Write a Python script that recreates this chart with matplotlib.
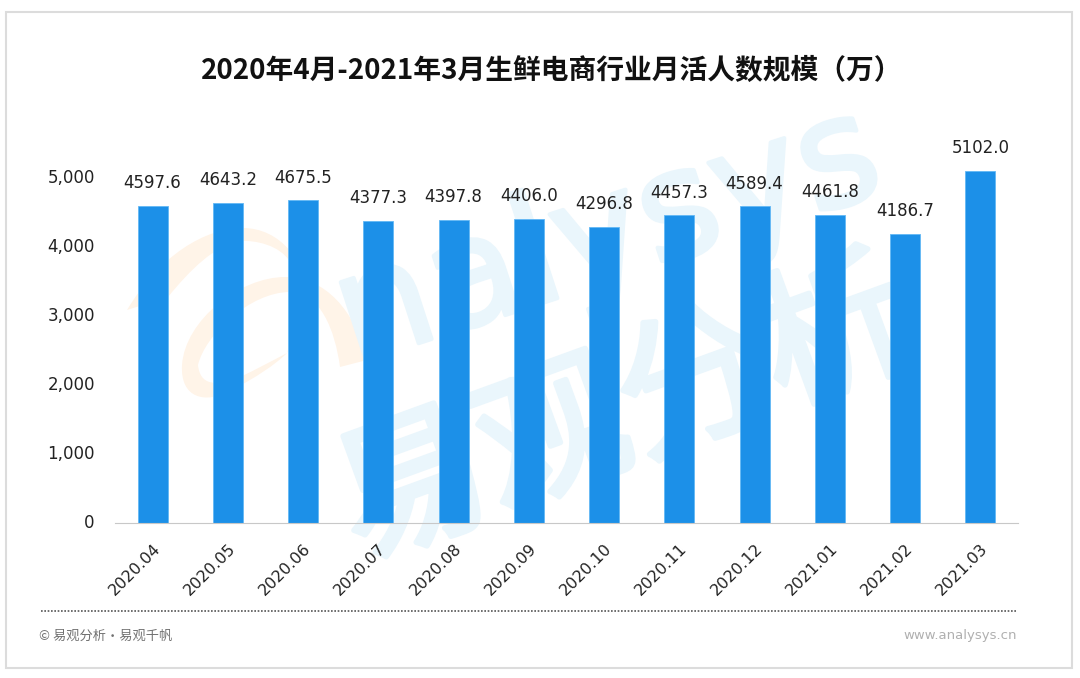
"""Monthly active users of fresh-food e-commerce, Apr 2020 - Mar 2021."""

import matplotlib
matplotlib.use("Agg")
import matplotlib.pyplot as plt
import matplotlib.patheffects as pe
from matplotlib.patches import Rectangle, PathPatch
from matplotlib.path import Path
from matplotlib.transforms import ScaledTranslation

plt.rcParams["font.family"] = ["Noto Sans CJK SC", "DejaVu Sans"]

months = ["2020.04", "2020.05", "2020.06", "2020.07", "2020.08", "2020.09",
          "2020.10", "2020.11", "2020.12", "2021.01", "2021.02", "2021.03"]
users = [4597.6, 4643.2, 4675.5, 4377.3, 4397.8, 4406.0,
         4296.8, 4457.3, 4589.4, 4461.8, 4186.7, 5102.0]
y_ticks = [0, 1000, 2000, 3000, 4000, 5000]

W, H = 1080, 678


def fx(px):
    return px / W


def fy(py):
    return 1 - py / H


def swoosh(start, *curves):
    """Closed filled shape from a start point and cubic bezier segments."""
    verts, codes = [start], [Path.MOVETO]
    for c in curves:
        verts += list(c)
        codes += [Path.CURVE4] * 3
    verts.append(start)
    codes.append(Path.CLOSEPOLY)
    return Path(verts, codes)


fig = plt.figure(figsize=(W / 100, H / 100), dpi=100, facecolor="white")

# card border
fig.add_artist(Rectangle((fx(6), fy(668)), fx(1066), 656 / H, transform=fig.transFigure,
                         fc="white", ec="#dcdcdc", lw=1.5, zorder=-5))

# ---- watermark ----
wm = "#eaf6fc"
wm_en = fig.text(fx(608), fy(238), "nalysys", color=wm, fontsize=108, rotation=18, family="DejaVu Sans",
                 ha="center", va="center", zorder=-1)
wm_cn = fig.text(fx(625), fy(415), "易观分析", color=wm, fontsize=108, rotation=20,
                 ha="center", va="center", zorder=-1)
wm_en.set_path_effects([pe.withStroke(linewidth=3, foreground=wm)])
wm_cn.set_path_effects([pe.withStroke(linewidth=4, foreground=wm)])
bg = fig.add_axes([0, 0, 1, 1], zorder=-2)
bg.set_xlim(0, W)
bg.set_ylim(H, 0)
bg.axis("off")
logo = "#fff4e8"
bg.add_patch(PathPatch(swoosh((127, 310),
                              [(160, 255), (205, 228), (243, 228)],
                              [(280, 228), (308, 262), (305, 300)],
                              [(303, 320), (296, 338), (287, 353)],
                              [(298, 320), (300, 290), (290, 262)],
                              [(280, 245), (255, 240), (240, 241)],
                              [(215, 245), (190, 270), (168, 297)]),
                       fc=logo, ec="none"))
bg.add_patch(PathPatch(swoosh((367, 360),
                              [(355, 310), (325, 277), (285, 277)],
                              [(240, 277), (185, 320), (182, 365)],
                              [(180, 398), (205, 405), (232, 390)],
                              [(255, 378), (275, 365), (287, 353)],
                              [(270, 362), (255, 370), (240, 377)],
                              [(215, 387), (200, 385), (198, 365)],
                              [(205, 335), (250, 292), (290, 292)],
                              [(320, 292), (335, 330), (340, 367)]),
                       fc=logo, ec="none"))

# ---- bars ----
ax = fig.add_axes([fx(115), 1 - 523 / H, fx(903), 379.5 / H], zorder=1)
ax.patch.set_alpha(0)
x = list(range(len(months)))
ax.bar(x, users, width=0.4, color="#1c90e8", edgecolor="#62b8f5", linewidth=0.6)
for xi, v in zip(x, users):
    ax.text(xi, v + 200, f"{v:.1f}", ha="center", va="bottom", fontsize=12,
            family="DejaVu Sans", color="#222222")

ax.set_xlim(-0.5, len(months) - 0.5)
ax.set_ylim(0, 5500)
ax.set_yticks(y_ticks)
ax.set_yticklabels([f"{t:,}" for t in y_ticks], fontsize=12, family="DejaVu Sans", color="#222222")
ax.set_xticks(x)
ax.set_xticklabels(months, rotation=45, ha="right", rotation_mode="anchor",
                   fontsize=11.5, family="DejaVu Sans", color="#222222")
ax.tick_params(axis="y", length=0, pad=14.5)
ax.tick_params(axis="x", length=0, pad=13)
lift = ScaledTranslation(0, 2 / 100, fig.dpi_scale_trans)
for lab in ax.get_yticklabels():
    lab.set_transform(lab.get_transform() + lift)
for s in ["top", "right", "left"]:
    ax.spines[s].set_visible(False)
ax.spines["bottom"].set_color("#c8c8c8")

fig.text(fx(552), fy(71), "2020年4月-2021年3月生鲜电商行业月活人数规模（万）", fontsize=20,
         fontweight="bold", color="#111111", ha="center", va="center")

# ---- footer ----
fig.add_artist(plt.Line2D([fx(41), fx(1017)], [fy(611), fy(611)], transform=fig.transFigure,
                          color="#555555", lw=1.2, ls=(0, (1, 1))))
fig.text(fx(39), fy(636), "© 易观分析·易观千帆", fontsize=9.5, color="#707070", va="center")
fig.text(fx(1017), fy(635), "www.analysys.cn", fontsize=9.5, color="#b0b0b0", va="center", ha="right",
         family="DejaVu Sans")

fig.savefig("out.png", dpi=100)
